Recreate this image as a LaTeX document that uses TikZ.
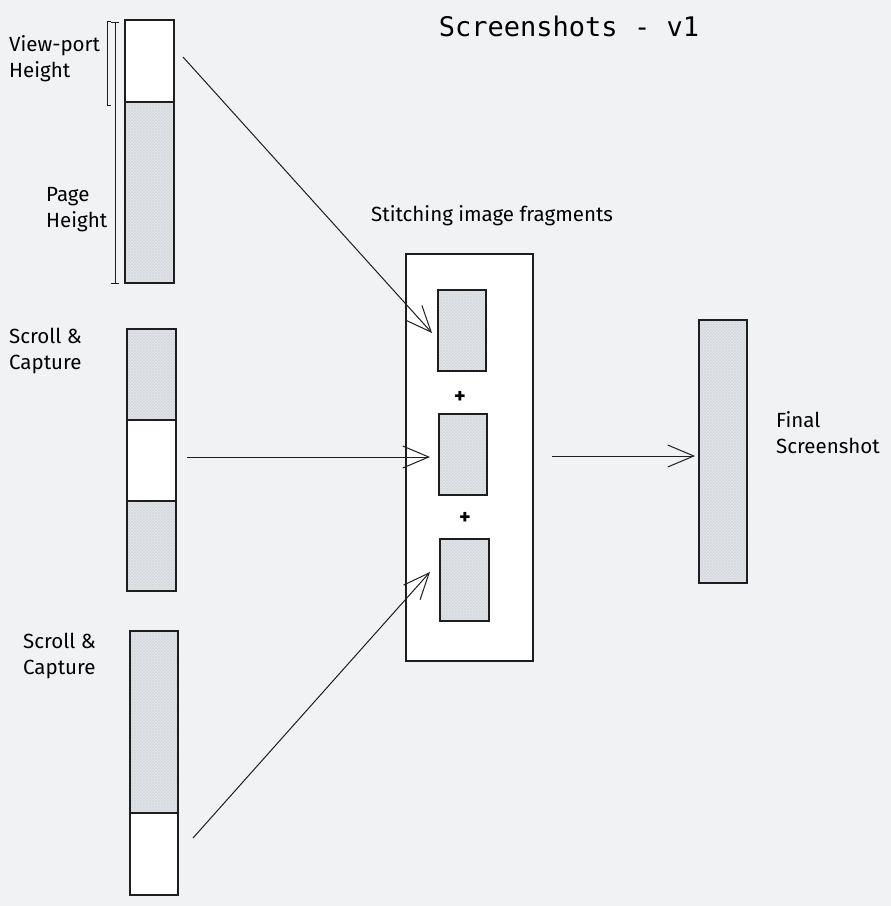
\documentclass[tikz,border=0pt]{standalone}
\usepackage{fontspec}
\setmainfont{Fira Sans}
\setmonofont{DejaVu Sans Mono}
\usetikzlibrary{arrows.meta,patterns}

\definecolor{canvas}{HTML}{F1F2F4}
\definecolor{ink}{HTML}{1E1E1E}
\definecolor{shade}{HTML}{E4E7EB}
\definecolor{hatch}{HTML}{D3D8DD}

\tikzset{
  page/.style={draw=ink, line width=1.4pt, minimum width=49pt, inner sep=0pt, outer sep=0pt},
  blank/.style={page, fill=white},
  hatched/.style={page, preaction={fill=shade}, pattern=crosshatch, pattern color=hatch},
  flow/.style={draw=ink, line width=1pt, -{Straight Barb[length=26pt,width=22pt,line width=1pt]}},
  hand/.style={font=\fontsize{20.5}{26}\selectfont, align=left, anchor=west, inner sep=0pt},
  plus/.style={font=\bfseries\fontsize{22}{22}\selectfont, inner sep=0pt},
}

\begin{document}
\begin{tikzpicture}[x=1pt,y=-1pt]
            \fill[canvas] (0,0) rectangle (891,906);
            \useasboundingbox (0,0) rectangle (891,906);

            \node[font=\ttfamily\fontsize{27}{27}\selectfont] (title) at (569,26) {Screenshots - v1};

            % full page, first view-port
            \node[blank, minimum height=82pt] (vp1) at (149.5,61) {};
            \node[hatched, minimum height=181pt] (pg1) at (149.5,192.5) {};
            \draw[ink, line width=1pt] ([xshift=-14pt,yshift=-1pt]vp1.north west) -| ([xshift=-18pt,yshift=-3pt]vp1.south west) -- ++(4pt,0);
            \draw[ink, line width=1pt, {Bar[width=8pt]}-{Bar[width=8pt]}] ([xshift=-10pt,yshift=-2pt]vp1.north west) -- ([xshift=-10pt,yshift=-1pt]pg1.south west);
            \node[hand] (vplabel) at (9,59) {View-port\\Height};
            \node[hand] (pglabel) at (46,210) {Page\\Height};

            % second capture
            \node[hatched, minimum height=91pt] (top2) at (151.5,374.5) {};
            \node[blank, minimum height=81pt] (win2) at (151.5,460.5) {};
            \node[hatched, minimum height=90pt] (bot2) at (151.5,546) {};
            \node[hand] (scroll1) at (9,351) {Scroll \&\\Capture};

            % third capture
            \node[hatched, minimum width=48pt, minimum height=182pt] (top3) at (154,722) {};
            \node[blank, minimum width=48pt, minimum height=82pt] (win3) at (154,854) {};
            \node[hand] (scroll2) at (23,656) {Scroll \&\\Capture};

            % stitching
            \node[hand] (stitchlabel) at (371,216) {Stitching image fragments};
            \node[blank, minimum width=127pt, minimum height=407pt] (stitch) at (469.5,457.5) {};
            \node[hatched, minimum width=48pt, minimum height=81pt] (frag1) at (462,330.5) {};
            \node[plus] (plus1) at (460,397) {+};
            \node[hatched, minimum width=48pt, minimum height=81pt] (frag2) at (463,454.5) {};
            \node[plus] (plus2) at (465,518) {+};
            \node[hatched, minimum width=49pt, minimum height=82pt] (frag3) at (464.5,580) {};

            % result
            \node[hatched, minimum width=48pt, minimum height=263pt] (final) at (723,451.5) {};
            \node[hand] (finallabel) at (776,433) {Final\\Screenshot};

            \draw[flow] ([xshift=9pt,yshift=4pt]vp1.east) -- ([xshift=-6pt,yshift=-2.5pt]frag1.west);
            \draw[flow] ([xshift=11pt,yshift=3.5pt]win2.east) -- ([xshift=-9pt,yshift=-2.5pt]frag2.west);
            \draw[flow] ([xshift=15pt,yshift=16pt]win3.east) -- ([xshift=-10pt,yshift=8pt]frag3.west);
            \draw[flow] ([xshift=19pt,yshift=1.5pt]stitch.east) -- ([xshift=-4pt,yshift=-4.5pt]final.west);
        \end{tikzpicture}
\end{document}
